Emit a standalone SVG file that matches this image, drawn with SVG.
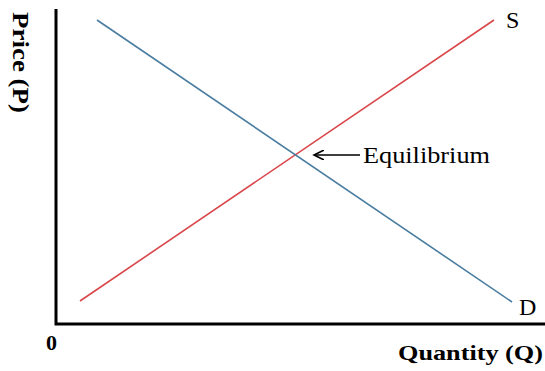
<svg xmlns="http://www.w3.org/2000/svg" width="545" height="371" viewBox="0 0 545 371">
<style>
.axis{stroke:#000;stroke-width:3;fill:none}
.lab{font-family:"Liberation Serif",serif;font-weight:bold;fill:#000}
.curve{font-family:"Liberation Serif",serif;fill:#000}
</style>
<defs>
<marker id="ah" markerWidth="12" markerHeight="10" refX="10" refY="5" orient="auto" markerUnits="userSpaceOnUse">
<path d="M0,0 L10,5 L0,10" fill="none" stroke="#000" stroke-width="1.6"/>
</marker>
</defs>
<rect width="545" height="371" fill="#fff"/>
<g id="axes">
<polyline class="axis" points="56,9 56,324 545,324"/>
</g>
<g id="connectors">
<line id="supply" x1="80" y1="301" x2="494" y2="20" stroke="#d9474b" stroke-width="1.6"/>
<line id="demand" x1="97" y1="20" x2="512" y2="302" stroke="#4a7da0" stroke-width="1.6"/>
<line id="eq-arrow" x1="360" y1="155" x2="314" y2="155" stroke="#000" stroke-width="1.6" marker-end="url(#ah)"/>
</g>
<g id="labels">
<text class="lab" font-size="23" transform="translate(13,12) rotate(90)" textLength="101" lengthAdjust="spacingAndGlyphs">Price (P)</text>
<text class="lab" font-size="22" x="398" y="360" textLength="145" lengthAdjust="spacingAndGlyphs">Quantity (Q)</text>
<text class="lab" font-size="22" x="46" y="350">0</text>
<text class="curve" font-size="24" x="506" y="28">S</text>
<text class="curve" font-size="24" x="519" y="315">D</text>
<text class="curve" font-size="23" x="363" y="163" textLength="127" lengthAdjust="spacingAndGlyphs">Equilibrium</text>
</g>
</svg>
